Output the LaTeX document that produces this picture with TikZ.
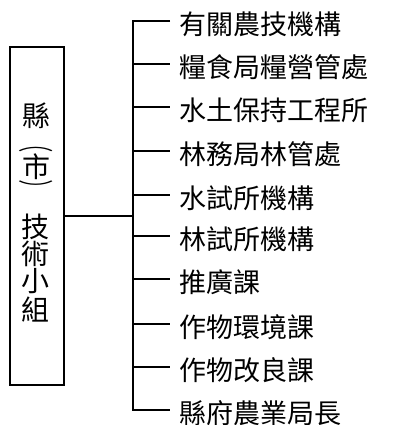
\documentclass[tikz,border=0pt]{standalone}
\usepackage{fontspec}
\setmainfont{Noto Sans CJK TC}
\begin{document}
\begin{tikzpicture}[x=1pt,y=-1pt,
  lbl/.style={anchor=west,inner xsep=9pt,inner ysep=0pt,
    font=\fontsize{27}{27}\selectfont,text height=23.76pt,text depth=3.24pt},
  bchar/.style={inner sep=0pt,font=\fontsize{28}{28}\selectfont,
    text height=24.64pt,text depth=3.36pt},
  pchar/.style={inner sep=0pt,font=\fontsize{16}{16}\selectfont,
    text height=14.08pt,text depth=1.92pt},
  boxst/.style={draw,line width=1.4pt,minimum width=54pt,minimum height=338pt,inner sep=0pt},
  conn/.style={line width=1.2pt}]
\useasboundingbox (0,0) rectangle (400,425);
% left box
\node[boxst] (box) at (37,216) {};
\node[bchar] (c1) at (36,116) {縣};
\node[pchar] (c2) at (36,144.5) {\scalebox{2.2}[1.1]{︵}};
\node[bchar] (c3) at (36,167) {市};
\node[pchar] (c4) at (36,189.5) {\scalebox{2.2}[1.1]{︶}};
\node[bchar] (c5) at (35,227) {技};
\node[bchar] (c6) at (35,254) {術};
\node[bchar] (c7) at (35,281) {小};
\node[bchar] (c8) at (35,310) {組};
% trunk coordinates
\coordinate (t0) at (133,216);
\coordinate (t1) at (133,21);
\coordinate (t2) at (133,64);
\coordinate (t3) at (133,107);
\coordinate (t4) at (133,151);
\coordinate (t5) at (133,195);
\coordinate (t6) at (133,236);
\coordinate (t7) at (133,279);
\coordinate (t8) at (133,324);
\coordinate (t9) at (133,367);
\coordinate (t10) at (133,410);
% labels
\node[lbl] (l1) at (170,24) {有關農技機構};
\node[lbl] (l2) at (170,67) {糧食局糧營管處};
\node[lbl] (l3) at (170,110) {水土保持工程所};
\node[lbl] (l4) at (170,154) {林務局林管處};
\node[lbl] (l5) at (170,198) {水試所機構};
\node[lbl] (l6) at (170,239) {林試所機構};
\node[lbl] (l7) at (170,282) {推廣課};
\node[lbl] (l8) at (170,327) {作物環境課};
\node[lbl] (l9) at (170,370) {作物改良課};
\node[lbl] (l10) at (170,413) {縣府農業局長};
% connectors
\draw[conn] (box.east |- t0) -- (t0);
\draw[conn] (t1 -| l1.west) -- (t1) -- (t10) -- (t10 -| l10.west);
\foreach \i in {2,...,9}{
  \draw[conn] (t\i) -- (t\i -| l\i.west);
}
\end{tikzpicture}
\end{document}
